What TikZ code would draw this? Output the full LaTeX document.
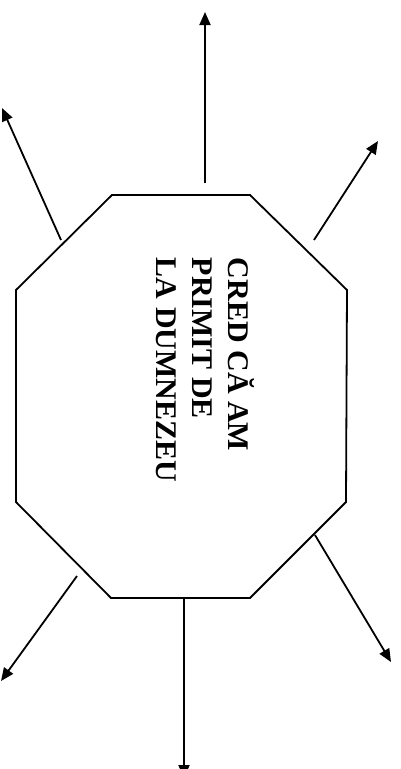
\documentclass[tikz,border=0pt]{standalone}
\usepackage{fontspec}
\setmainfont{Liberation Serif}
\usetikzlibrary{arrows.meta}
\begin{document}
\begin{tikzpicture}[x=1pt,y=-1pt,
  edge/.style={line width=1.8pt},
  arr/.style={line width=1.8pt,-{Triangle[length=13pt,width=11pt]}}]
\clip (0,0) rectangle (401,769);
\useasboundingbox (0,0) rectangle (401,769);
% octagon
\coordinate (o1) at (112,195);
\coordinate (o2) at (250,195);
\coordinate (o3) at (347,290);
\coordinate (o4) at (346,502);
\coordinate (o5) at (250,598);
\coordinate (o6) at (111,598);
\coordinate (o7) at (16,502);
\coordinate (o8) at (16,290);
\draw[edge, line join=miter] (o1) -- (o2) -- (o3) -- (o4) -- (o5) -- (o6) -- (o7) -- (o8) -- cycle;
\node[rotate=-90, anchor=center, align=left, inner sep=0pt,
      font=\fontsize{30}{36}\selectfont\bfseries] (txt) at (205,370)
  {CRED CĂ AM\\PRIMIT DE\\LA DUMNEZEU};
% arrow start points
\coordinate (sT) at (205,183);
\coordinate (sUL) at (61,240);
\coordinate (sUR) at (314,240);
\coordinate (sB) at (184,598);
\coordinate (sLL) at (77,576);
\coordinate (sLR) at (315,535);
% arrow end points
\coordinate (eT) at (205,12);
\coordinate (eUL) at (2,108);
\coordinate (eUR) at (378,141);
\coordinate (eB) at (184,778);
\coordinate (eLL) at (1,681);
\coordinate (eLR) at (391,662);
\draw[arr] (sT) -- (eT);
\draw[arr] (sUL) -- (eUL);
\draw[arr] (sUR) -- (eUR);
\draw[arr] (sB) -- (eB);
\draw[arr] (sLL) -- (eLL);
\draw[arr] (sLR) -- (eLR);
\end{tikzpicture}
\end{document}
